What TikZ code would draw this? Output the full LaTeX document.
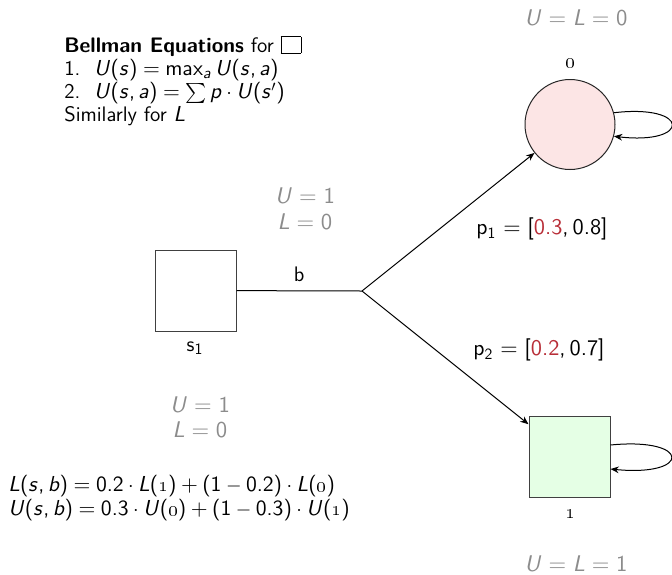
\documentclass[tikz,border=0pt]{standalone}
\usepackage{amsmath}
\usetikzlibrary{arrows.meta}
\definecolor{valgray}{gray}{0.55}
\definecolor{lowred}{rgb}{0.72,0.18,0.22}
\definecolor{zerofill}{rgb}{0.99,0.9,0.9}
\definecolor{onefill}{rgb}{0.9,1,0.9}
% sans-serif math (beamer-like), freely scalable Computer Modern Sans
\DeclareFontFamily{OT1}{mysfm}{\hyphenchar\font=-1}
\DeclareFontShape{OT1}{mysfm}{m}{n}{<-> cmss10}{}
\DeclareFontShape{OT1}{mysfm}{m}{sl}{<-> cmssi10}{}
\DeclareSymbolFont{sfops}{OT1}{mysfm}{m}{n}
\DeclareSymbolFont{sfits}{OT1}{mysfm}{m}{sl}
\newcount\lcnt
\lcnt=`A \loop \mathcode\lcnt=\numexpr"7000+\symsfits*"100+\lcnt\relax \advance\lcnt1 \ifnum\lcnt<`[ \repeat
\lcnt=`a \loop \mathcode\lcnt=\numexpr"7000+\symsfits*"100+\lcnt\relax \advance\lcnt1 \ifnum\lcnt<`\{ \repeat
\lcnt=`0 \loop \mathcode\lcnt=\numexpr"7000+\symsfops*"100+\lcnt\relax \advance\lcnt1 \ifnum\lcnt<`: \repeat
\mathcode`.=\numexpr"0000+\symsfops*"100+"2E\relax
\mathcode`,=\numexpr"6000+\symsfops*"100+"2C\relax
\mathcode`(=\numexpr"4000+\symsfops*"100+"28\relax
\mathcode`)=\numexpr"5000+\symsfops*"100+"29\relax
\mathcode`[=\numexpr"4000+\symsfops*"100+"5B\relax
\mathcode`]=\numexpr"5000+\symsfops*"100+"5D\relax
\mathcode`+=\numexpr"2000+\symsfops*"100+"2B\relax
\mathcode`==\numexpr"3000+\symsfops*"100+"3D\relax
\makeatletter
\def\operator@font{\mathgroup\symsfops}
\makeatother
\DeclareMathSizes{12.6}{13.0}{9.5}{7.3}
\begin{document}
\begin{tikzpicture}[x=0.6pt,y=-0.6pt,
  every node/.style={font=\fontsize{12.6}{14}\selectfont\sffamily, inner sep=0pt},
  txt/.style={anchor=base west},
  val/.style={text=valgray, font=\fontsize{13.6}{16}\selectfont\sffamily},
  prob/.style={font=\fontsize{13.4}{15}\selectfont\sffamily},
  statebox/.style={draw=black!75, line width=0.6pt, minimum size=48.6pt},
  statecirc/.style={circle, draw=black!85, line width=0.6pt, minimum size=54pt, fill=zerofill},
  conn/.style={line width=0.6pt, black},
  arr/.style={conn, -{Stealth[length=5pt,width=4pt]}}]
\useasboundingbox (0,0) rectangle (672,574);

% Bellman block
\node[txt] (h1) at (64,52) {\textbf{Bellman Equations} for {\setlength\fboxsep{0pt}\fbox{\rule[-0.5pt]{0pt}{9.5pt}\hspace{11.5pt}}}};
\node[txt] (h2) at (64,75.5) {1.\ \ $U(s) = \max_a U(s,a)$};
\node[txt] (h3) at (64,98.5) {2.\ \ $U(s,a) = \sum p\cdot U(s')$};
\node[txt] (h4) at (64,121) {Similarly for $L$};

% states
\node[statebox] (s1) at (195.5,290.5) {};
\node (s1lab) at (195,348) {s$_1$};
\coordinate (c) at (362,291);
\node[statecirc] (o) at (570,124.5) {};
\node (olab) at (570,63) {{\bfseries\oldstylenums{0}}};
\node[statebox, fill=onefill] (one) at (569.5,457) {};
\node (onelab) at (570,514) {{\bfseries\oldstylenums{1}}};

% values
\node[val] (vo) at (576,18) {$U = L = 0$};
\node[val] (vone) at (576,564) {$U = L = 1$};
\node[val] (vu1) at (305,196) {$U = 1$};
\node[val] (vl1) at (305,222) {$L = 0$};
\node[val] (vu2) at (200,405) {$U = 1$};
\node[val] (vl2) at (200,430) {$L = 0$};

% connectors
\draw[conn] (s1) -- node[midway, yshift=10pt] (blab) {b} (c);
\draw[arr] (c) -- (o);
\draw[arr] (c) -- (one);
\draw[arr] (o.15) .. controls +(77,-9) and +(77,9) .. (o.-15);
\draw[arr] ([yshift=7.2pt]one.east) .. controls +(81,-8) and +(81,8) .. ([yshift=-7.2pt]one.east);

% probabilities
\node[prob] (p1) at (542,229) {p$_1$ $= [\textcolor{lowred}{0.3}, 0.8]$};
\node[prob] (p2) at (539,350) {p$_2$ $= [\textcolor{lowred}{0.2}, 0.7]$};

% formulas
\node[txt] (fl) at (8,491) {$L(s,b) = 0.2\cdot L(\mbox{\oldstylenums{1}}) + (1-0.2)\cdot L(\mbox{\oldstylenums{0}})$};
\node[txt] (fu) at (8,515) {$U(s,b) = 0.3\cdot U(\mbox{\oldstylenums{0}}) + (1-0.3)\cdot U(\mbox{\oldstylenums{1}})$};
\end{tikzpicture}
\end{document}
